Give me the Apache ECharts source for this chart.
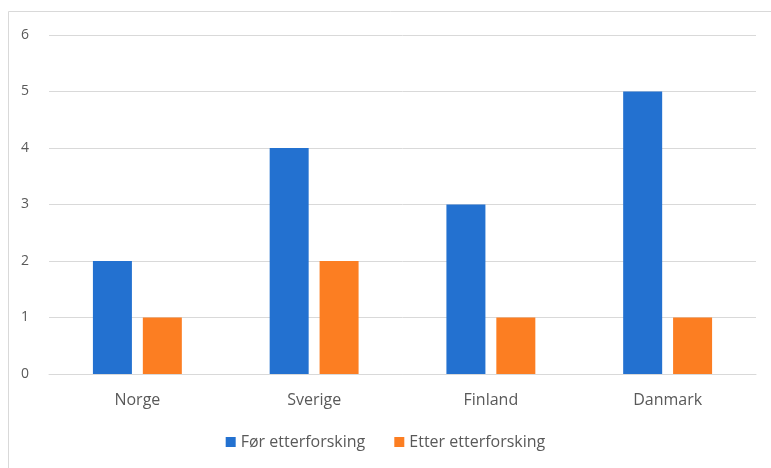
<!DOCTYPE html>
<html>
<head>
<meta charset="utf-8">
<script src="https://cdn.jsdelivr.net/npm/echarts@6/dist/echarts.min.js"></script>
<style>
html,body{margin:0;padding:0;background:#fff;}
#chart{width:771px;height:468px;}
</style>
</head>
<body>
<div id="chart"></div>
<script>
var categories = ['Norge', 'Sverige', 'Finland', 'Danmark'];
var seriesNames = ['Før etterforsking', 'Etter etterforsking'];
var forValues = [2, 4, 3, 5];
var etterValues = [1, 2, 1, 1];

var chart = echarts.init(document.getElementById('chart'));
var font = '"Open Sans", "Noto Sans", sans-serif';
chart.setOption({
  animation: false,
  backgroundColor: '#fff',
  graphic: [{
    type: 'rect',
    shape: {x: 8.5, y: 11.5, width: 800, height: 500},
    style: {fill: 'none', stroke: '#d9d9d9', lineWidth: 1},
    silent: true,
    z: -1
  }],
  grid: {left: 49, right: 15, top: 35, bottom: 94, containLabel: false},
  legend: {
    data: seriesNames,
    top: 429,
    left: 'center',
    itemWidth: 10,
    itemHeight: 10,
    itemGap: 29,
    icon: 'rect',
    textStyle: {color: '#595959', fontSize: 16, fontFamily: font}
  },
  xAxis: {
    type: 'category',
    data: categories,
    axisLine: {show: true, lineStyle: {color: '#d9d9d9'}},
    axisTick: {show: false},
    axisLabel: {color: '#595959', fontSize: 16, fontFamily: font, margin: 18}
  },
  yAxis: {
    type: 'value',
    min: 0,
    max: 6,
    interval: 1,
    axisLine: {show: false},
    axisTick: {show: false},
    splitLine: {lineStyle: {color: '#d9d9d9'}},
    axisLabel: {color: '#595959', fontSize: 14, fontFamily: font, margin: 20}
  },
  series: [
    {name: seriesNames[0], type: 'bar', data: forValues, barWidth: 39, barGap: '28%', itemStyle: {color: '#2371D0'}},
    {name: seriesNames[1], type: 'bar', data: etterValues, barWidth: 39, barGap: '28%', itemStyle: {color: '#FC7E22'}}
  ]
});
</script>
</body>
</html>
